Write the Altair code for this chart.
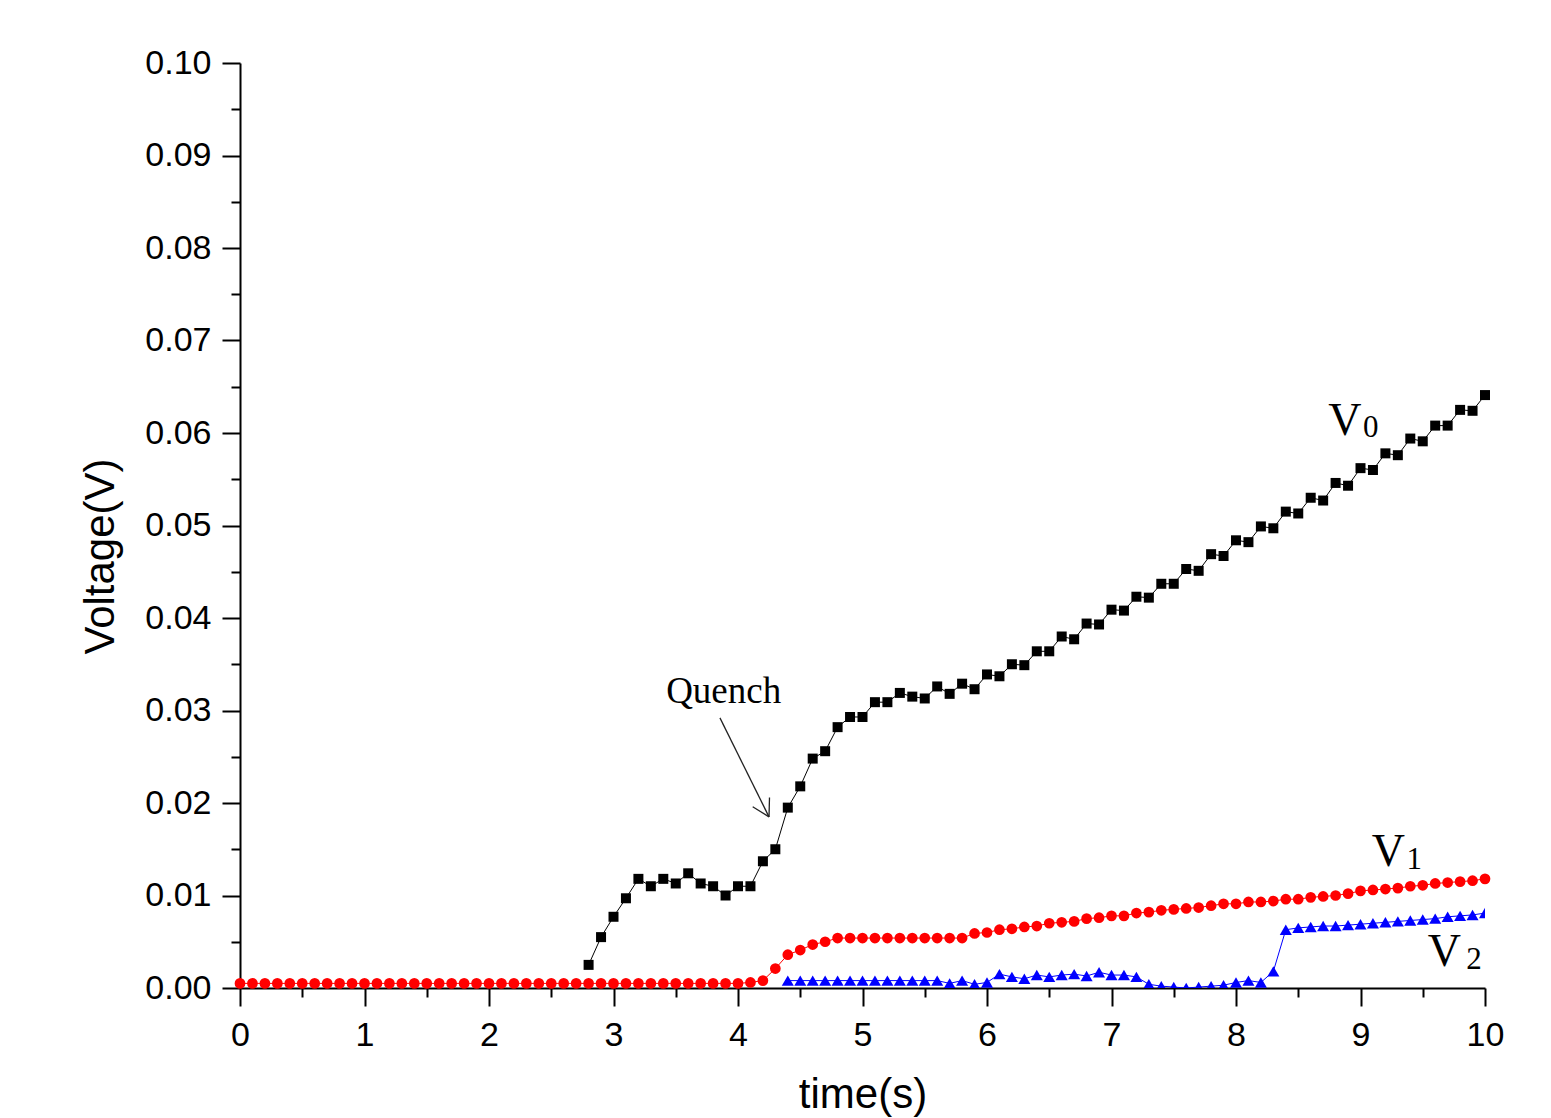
import altair as alt
import pandas as pd

# ---------------- data ----------------
t_v0 = [2.8, 2.9,
        3.0, 3.1, 3.2, 3.3, 3.4, 3.5, 3.6, 3.7, 3.8, 3.9,
        4.0, 4.1, 4.2, 4.3, 4.4, 4.5, 4.6, 4.7, 4.8, 4.9,
        5.0, 5.1, 5.2, 5.3, 5.4, 5.5, 5.6, 5.7, 5.8, 5.9,
        6.0, 6.1, 6.2, 6.3, 6.4, 6.5, 6.6, 6.7, 6.8, 6.9,
        7.0, 7.1, 7.2, 7.3, 7.4, 7.5, 7.6, 7.7, 7.8, 7.9,
        8.0, 8.1, 8.2, 8.3, 8.4, 8.5, 8.6, 8.7, 8.8, 8.9,
        9.0, 9.1, 9.2, 9.3, 9.4, 9.5, 9.6, 9.7, 9.8, 9.9,
        10.0]
v0 = [0.0025, 0.0055,
      0.0077, 0.0097, 0.0118, 0.0110, 0.0118, 0.0113, 0.0124, 0.0113, 0.0110, 0.0100,
      0.0110, 0.0110, 0.0137, 0.0150, 0.0195, 0.0218, 0.0248, 0.0256, 0.0282, 0.0293,
      0.0293, 0.0309, 0.0309, 0.0319, 0.0315, 0.0313, 0.0326, 0.0318, 0.0329, 0.0323,
      0.0339, 0.0337, 0.0350, 0.0349, 0.0364, 0.0364, 0.0380, 0.0377, 0.0394, 0.0393,
      0.0409, 0.0408, 0.0423, 0.0422, 0.0437, 0.0437, 0.0453, 0.0451, 0.0469, 0.0467,
      0.0484, 0.0482, 0.0499, 0.0497, 0.0515, 0.0513, 0.0530, 0.0527, 0.0546, 0.0543,
      0.0562, 0.0560, 0.0578, 0.0576, 0.0594, 0.0591, 0.0608, 0.0608, 0.0625, 0.0624,
      0.0641]

t_v1 = [0.0, 0.1, 0.2, 0.3, 0.4, 0.5, 0.6, 0.7, 0.8, 0.9,
        1.0, 1.1, 1.2, 1.3, 1.4, 1.5, 1.6, 1.7, 1.8, 1.9,
        2.0, 2.1, 2.2, 2.3, 2.4, 2.5, 2.6, 2.7, 2.8, 2.9,
        3.0, 3.1, 3.2, 3.3, 3.4, 3.5, 3.6, 3.7, 3.8, 3.9,
        4.0, 4.1, 4.2, 4.3, 4.4, 4.5, 4.6, 4.7, 4.8, 4.9,
        5.0, 5.1, 5.2, 5.3, 5.4, 5.5, 5.6, 5.7, 5.8, 5.9,
        6.0, 6.1, 6.2, 6.3, 6.4, 6.5, 6.6, 6.7, 6.8, 6.9,
        7.0, 7.1, 7.2, 7.3, 7.4, 7.5, 7.6, 7.7, 7.8, 7.9,
        8.0, 8.1, 8.2, 8.3, 8.4, 8.5, 8.6, 8.7, 8.8, 8.9,
        9.0, 9.1, 9.2, 9.3, 9.4, 9.5, 9.6, 9.7, 9.8, 9.9,
        10.0]
v1 = [0.0005, 0.0005, 0.0005, 0.0005, 0.0005, 0.0005, 0.0005, 0.0005, 0.0005, 0.0005,
      0.0005, 0.0005, 0.0005, 0.0005, 0.0005, 0.0005, 0.0005, 0.0005, 0.0005, 0.0005,
      0.0005, 0.0005, 0.0005, 0.0005, 0.0005, 0.0005, 0.0005, 0.0005, 0.0005, 0.0005,
      0.0005, 0.0005, 0.0005, 0.0005, 0.0005, 0.0005, 0.0005, 0.0005, 0.0005, 0.0005,
      0.0005, 0.0006, 0.0008, 0.0021, 0.0036, 0.0041, 0.0047, 0.0050, 0.0054, 0.0054,
      0.0054, 0.0054, 0.0054, 0.0054, 0.0054, 0.0054, 0.0054, 0.0054, 0.0054, 0.0059,
      0.0060, 0.0063, 0.0064, 0.0066, 0.0067, 0.0070, 0.0071, 0.0072, 0.0075, 0.0076,
      0.0078, 0.0078, 0.0081, 0.0082, 0.0084, 0.0085, 0.0086, 0.0087, 0.0089, 0.0091,
      0.0091, 0.0093, 0.0093, 0.0094, 0.0096, 0.0096, 0.0098, 0.0099, 0.0100, 0.0102,
      0.0105, 0.0106, 0.0107, 0.0108, 0.0110, 0.0111, 0.0113, 0.0114, 0.0115, 0.0116,
      0.0118]

t_v2 = [4.4, 4.5, 4.6, 4.7, 4.8, 4.9,
        5.0, 5.1, 5.2, 5.3, 5.4, 5.5, 5.6, 5.7, 5.8, 5.9,
        6.0, 6.1, 6.2, 6.3, 6.4, 6.5, 6.6, 6.7, 6.8, 6.9,
        7.0, 7.1, 7.2, 7.3, 7.4, 7.5, 7.6, 7.7, 7.8, 7.9,
        8.0, 8.1, 8.2, 8.3, 8.4, 8.5, 8.6, 8.7, 8.8, 8.9,
        9.0, 9.1, 9.2, 9.3, 9.4, 9.5, 9.6, 9.7, 9.8, 9.9,
        10.0]
v2 = [0.0008, 0.0008, 0.0008, 0.0008, 0.0008, 0.0008,
      0.0008, 0.0008, 0.0008, 0.0008, 0.0008, 0.0008, 0.0008, 0.0005, 0.0008, 0.0004,
      0.0006, 0.0015, 0.0012, 0.0010, 0.0014, 0.0012, 0.0014, 0.0015, 0.0013, 0.0017,
      0.0014, 0.0014, 0.0012, 0.0004, 0.0002, 0.0001, 0.0000, 0.0001, 0.0002, 0.0003,
      0.0006, 0.0008, 0.0006, 0.0018, 0.0063, 0.0065, 0.0066, 0.0067, 0.0067, 0.0068,
      0.0069, 0.0070, 0.0071, 0.0072, 0.0073, 0.0074, 0.0075, 0.0077, 0.0078, 0.0079,
      0.0081]

x_major = [0, 1, 2, 3, 4, 5, 6, 7, 8, 9, 10]
x_minor = [0.5, 1.5, 2.5, 3.5, 4.5, 5.5, 6.5, 7.5, 8.5, 9.5]
y_major = [0.0, 0.01, 0.02, 0.03, 0.04, 0.05, 0.06, 0.07, 0.08, 0.09, 0.10]
y_minor = [0.005, 0.015, 0.025, 0.035, 0.045, 0.055, 0.065, 0.075, 0.085, 0.095]

# series labels (big "V" + subscript digit), anchored in data units
lab_main_t = [8.74, 9.09, 9.54]
lab_main_v = [0.0598, 0.0132, 0.0024]
lab_sub_t = [9.02, 9.37, 9.85]
lab_sub_v = [0.0596, 0.0129, 0.0021]
lab_sub_txt = ["0", "1", "2"]

quench_t = [3.885]
quench_v = [0.0308]

# arrow: shaft + two head strokes
arr_t1 = [3.855, 4.249, 4.249]
arr_v1 = [0.0292, 0.0185, 0.0185]
arr_t2 = [4.249, 4.118, 4.253]
arr_v2 = [0.0185, 0.0196, 0.0206]

# ---------------- chart ----------------
W, H = 1245, 925
SANS = "Liberation Sans"
SERIF = "Liberation Serif"

df0 = pd.DataFrame({"t": t_v0, "v": v0})
df1 = pd.DataFrame({"t": t_v1, "v": v1})
df2 = pd.DataFrame({"t": t_v2, "v": v2})


def xs():
    return alt.Scale(domain=[0, 10], nice=False, zero=False)


def ys():
    return alt.Scale(domain=[0, 0.1], nice=False, zero=False)


x_axis_major = alt.Axis(
    orient="bottom", values=x_major, format="d", grid=False,
    tickSize=18, tickWidth=2, tickColor="black",
    domainWidth=2, domainColor="black",
    labelFont=SANS, labelFontSize=34, labelColor="black", labelPadding=12,
    labelFlush=False, labelOverlap=False,
    title="time(s)", titleFont=SANS, titleFontSize=42, titleFontWeight="normal",
    titleColor="black", titleY=119, titleBaseline="alphabetic",
)
y_axis_major = alt.Axis(
    orient="left", values=y_major, format=".2f", grid=False,
    tickSize=18, tickWidth=2, tickColor="black",
    domainWidth=2, domainColor="black",
    labelFont=SANS, labelFontSize=34, labelColor="black", labelPadding=11,
    labelFlush=False, labelOverlap=False,
    title="Voltage(V)", titleFont=SANS, titleFontSize=42, titleFontWeight="normal",
    titleColor="black", titleX=-127, titleY=493, titleAngle=270,
    titleAlign="center", titleBaseline="alphabetic",
)
x_axis_minor = alt.Axis(
    orient="bottom", values=x_minor, grid=False, labels=False, domain=False,
    tickSize=9, tickWidth=2, tickColor="black", title=None,
)
y_axis_minor = alt.Axis(
    orient="left", values=y_minor, grid=False, labels=False, domain=False,
    tickSize=9, tickWidth=2, tickColor="black", title=None,
)

v0_line = alt.Chart(df0).mark_line(color="black", strokeWidth=1).encode(
    x=alt.X("t:Q", scale=xs(), axis=x_axis_major),
    y=alt.Y("v:Q", scale=ys(), axis=y_axis_major),
)
v0_pts = alt.Chart(df0).mark_point(
    shape="square", filled=True, size=100, color="black", opacity=1
).encode(
    x=alt.X("t:Q", scale=xs(), axis=x_axis_minor),
    y=alt.Y("v:Q", scale=ys(), axis=y_axis_minor),
)

v1_line = alt.Chart(df1).mark_line(color="#ff0000", strokeWidth=1).encode(
    x=alt.X("t:Q", scale=xs(), axis=None),
    y=alt.Y("v:Q", scale=ys(), axis=None),
)
v1_pts = alt.Chart(df1).mark_point(
    shape="circle", filled=True, size=115, color="#ff0000", opacity=1
).encode(
    x=alt.X("t:Q", scale=xs(), axis=None),
    y=alt.Y("v:Q", scale=ys(), axis=None),
)

v2_line = alt.Chart(df2).mark_line(color="#0000ff", strokeWidth=1, clip=True).encode(
    x=alt.X("t:Q", scale=xs(), axis=None),
    y=alt.Y("v:Q", scale=ys(), axis=None),
)
v2_pts = alt.Chart(df2).mark_point(
    shape="triangle-up", filled=True, size=145, color="#0000ff", opacity=1, clip=True
).encode(
    x=alt.X("t:Q", scale=xs(), axis=None),
    y=alt.Y("v:Q", scale=ys(), axis=None),
)

arrow = alt.Chart(pd.DataFrame({"t1": arr_t1, "v1": arr_v1, "t2": arr_t2, "v2": arr_v2})).mark_rule(
    color="#222222", strokeWidth=1.3
).encode(
    x=alt.X("t1:Q", scale=xs(), axis=None),
    y=alt.Y("v1:Q", scale=ys(), axis=None),
    x2="t2:Q",
    y2="v2:Q",
)

quench = alt.Chart(pd.DataFrame({"t": quench_t, "v": quench_v, "s": ["Quench"]})).mark_text(
    font=SERIF, fontSize=37, color="black", align="center", baseline="alphabetic"
).encode(
    x=alt.X("t:Q", scale=xs(), axis=None),
    y=alt.Y("v:Q", scale=ys(), axis=None),
    text="s:N",
)

lab_main = alt.Chart(pd.DataFrame({"t": lab_main_t, "v": lab_main_v, "s": ["V", "V", "V"]})).mark_text(
    font=SERIF, fontSize=46, color="black", align="left", baseline="alphabetic"
).encode(
    x=alt.X("t:Q", scale=xs(), axis=None),
    y=alt.Y("v:Q", scale=ys(), axis=None),
    text="s:N",
)
lab_sub = alt.Chart(pd.DataFrame({"t": lab_sub_t, "v": lab_sub_v, "s": lab_sub_txt})).mark_text(
    font=SERIF, fontSize=31, color="black", align="left", baseline="alphabetic"
).encode(
    x=alt.X("t:Q", scale=xs(), axis=None),
    y=alt.Y("v:Q", scale=ys(), axis=None),
    text="s:N",
)

chart = alt.layer(
    v0_line, v0_pts, v1_line, v1_pts, v2_line, v2_pts, arrow, quench, lab_main, lab_sub
).resolve_scale(
    x="independent", y="independent"
).properties(
    width=W, height=H,
    autosize=alt.AutoSizeParams(type="none"),
    padding={"left": 232, "top": 55, "right": 58, "bottom": 130},
    background="white",
).configure_view(stroke=None)

chart.save("out.html", embed_options={"renderer": "svg", "actions": False})
